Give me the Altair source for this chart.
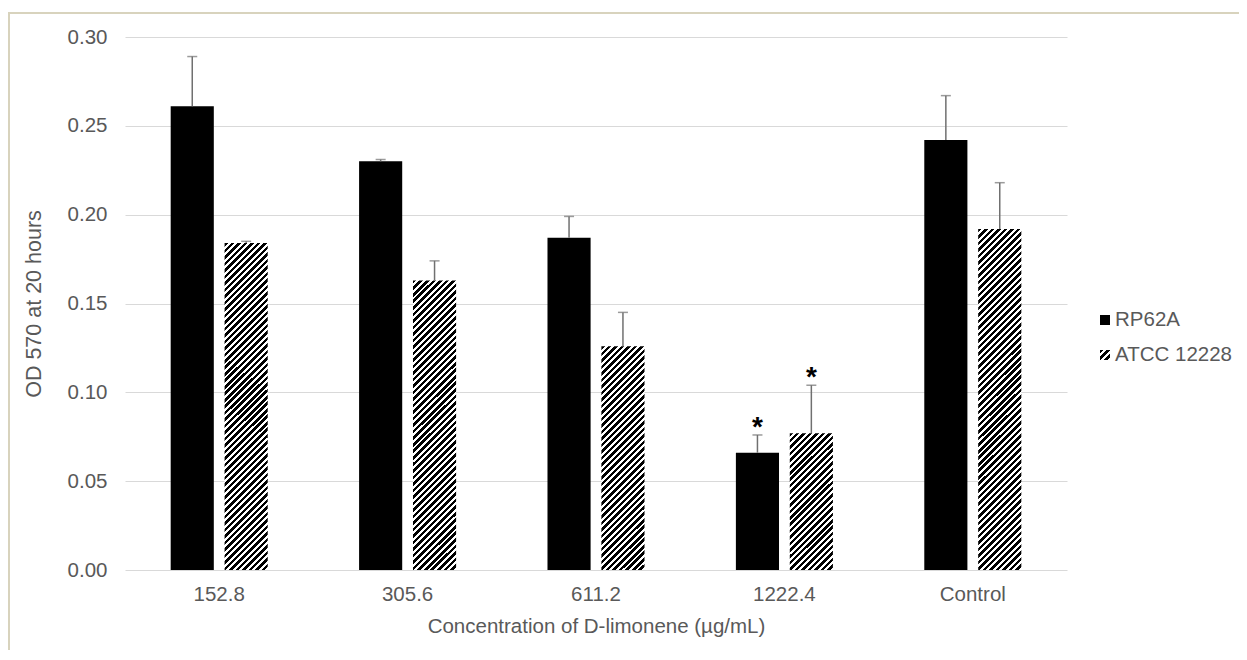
import altair as alt

# ---------------- data ----------------
categories = ["152.8", "305.6", "611.2", "1222.4", "Control"]
series = ["RP62A", "ATCC 12228"]
rp62a_mean = [0.261, 0.230, 0.187, 0.066, 0.242]
rp62a_err = [0.028, 0.001, 0.012, 0.010, 0.025]
atcc_mean = [0.184, 0.163, 0.126, 0.077, 0.192]
atcc_err = [0.001, 0.011, 0.019, 0.027, 0.026]
rp62a_sig = ["", "", "", "*", ""]
atcc_sig = ["", "", "", "*", ""]
y_ticks = [0.0, 0.05, 0.10, 0.15, 0.20, 0.25, 0.30]

# ---------------- layout / style ----------------
W, H = 942, 533
Y_MAX = 0.30
PX_PER_UNIT = H / Y_MAX
BAR_W = 43
STRIPE = 6.5
BLACK_FRAC = 0.55
FONT = "Liberation Sans"
GRAY = "#595959"
ERR = "#707070"


def hatch(w, h, period=STRIPE, frac=BLACK_FRAC):
    """Diagonal '/' stripes as a linear gradient in bounding-box units."""
    n = max(1, round((w + h) / period))
    stops = []
    for i in range(n):
        a, b, c = i / n, (i + frac) / n, (i + 1) / n
        stops += [
            {"offset": a, "color": "#000000"},
            {"offset": b, "color": "#000000"},
            {"offset": b, "color": "#ffffff"},
            {"offset": c, "color": "#ffffff"},
        ]
    k = (1 / h + 1 / w) / (1 / h ** 2 + 1 / w ** 2)
    return {"gradient": "linear", "x1": 0, "y1": 0, "x2": k / h, "y2": k / w, "stops": stops}


rows = []
for i, c in enumerate(categories):
    for s, m, e, sig in [
        (series[0], rp62a_mean[i], rp62a_err[i], rp62a_sig[i]),
        (series[1], atcc_mean[i], atcc_err[i], atcc_sig[i]),
    ]:
        paint = "#000000" if s == series[0] else hatch(BAR_W, m * PX_PER_UNIT)
        rows.append({"cat": c, "series": s, "mean": m, "hi": m + e, "sig": sig, "paint": paint})

data = alt.Data(values=rows)

x_enc = alt.X(
    "cat:N",
    sort=categories,
    scale=alt.Scale(paddingInner=0.485, paddingOuter=0.2425),
    axis=alt.Axis(title="Concentration of D-limonene (µg/mL)", labelAngle=0, grid=False,
                  labelPadding=14, titlePadding=12),
)
xoff_enc = alt.XOffset("series:N", sort=series, scale=alt.Scale(paddingInner=0.2, paddingOuter=0))
y_scale = alt.Scale(domain=[0, Y_MAX], nice=False)

base = alt.Chart(data).encode(x=x_enc, xOffset=xoff_enc)

bars = base.mark_bar(strokeWidth=0).encode(
    y=alt.Y("mean:Q", scale=y_scale,
            axis=alt.Axis(values=y_ticks, format=".2f", title="OD 570 at 20 hours",
                          grid=True, labelPadding=18, titlePadding=22, titleFontSize=21.5)),
    fill=alt.Fill("paint:N", scale=None),
)
err_rule = base.mark_rule(color=ERR, strokeWidth=1.5).encode(
    y=alt.Y("mean:Q", scale=y_scale), y2="hi:Q"
)
err_cap = base.mark_tick(color=ERR, thickness=1.5, size=10).encode(
    y=alt.Y("hi:Q", scale=y_scale)
)
stars = base.mark_text(fontSize=28, fontWeight="bold", color="#000000", baseline="alphabetic",
                       font=FONT, dy=1).encode(
    y=alt.Y("hi:Q", scale=y_scale), text="sig:N"
)

# manual legend (hatched swatch cannot be drawn by a standard legend)
leg_rp = alt.Chart(alt.Data(values=[{"label": series[0]}]))
leg_at = alt.Chart(alt.Data(values=[{"label": series[1]}]))
leg1_sq = leg_rp.mark_square(size=100, fill="#000000", opacity=1, strokeWidth=0).encode(
    x=alt.value(980), y=alt.value(283))
leg2_sq = leg_at.mark_square(size=100, fill=hatch(10, 10, 6.5), opacity=1, strokeWidth=0).encode(
    x=alt.value(980), y=alt.value(318))
leg1_tx = leg_rp.mark_text(align="left", baseline="middle", fontSize=20.5, color=GRAY, font=FONT).encode(
    x=alt.value(990), y=alt.value(283), text="label:N")
leg2_tx = leg_at.mark_text(align="left", baseline="middle", fontSize=20.5, color=GRAY, font=FONT).encode(
    x=alt.value(990), y=alt.value(318), text="label:N")

border = alt.Chart(alt.Data(values=[{}])).mark_rect(
    fillOpacity=0, stroke="#d8d3bd", strokeWidth=2
).encode(x=alt.value(-116), x2=alt.value(W + 300), y=alt.value(-24), y2=alt.value(H + 200))

chart = alt.layer(
    border, bars, err_rule, err_cap, stars, leg1_sq, leg2_sq, leg1_tx, leg2_tx
).properties(
    width=W, height=H,
    autosize=alt.AutoSizeParams(type="none"),
    padding={"left": 117, "top": 29, "right": 172, "bottom": 80},
).configure_view(stroke=None).configure_axis(
    labelFont=FONT, titleFont=FONT, labelFontSize=20.5, titleFontSize=20.5,
    labelColor=GRAY, titleColor=GRAY, titleFontWeight="normal",
    domain=False, ticks=False, gridColor="#d9d9d9", gridWidth=1,
)

chart.save("out.html", embed_options={"renderer": "svg", "actions": False})
